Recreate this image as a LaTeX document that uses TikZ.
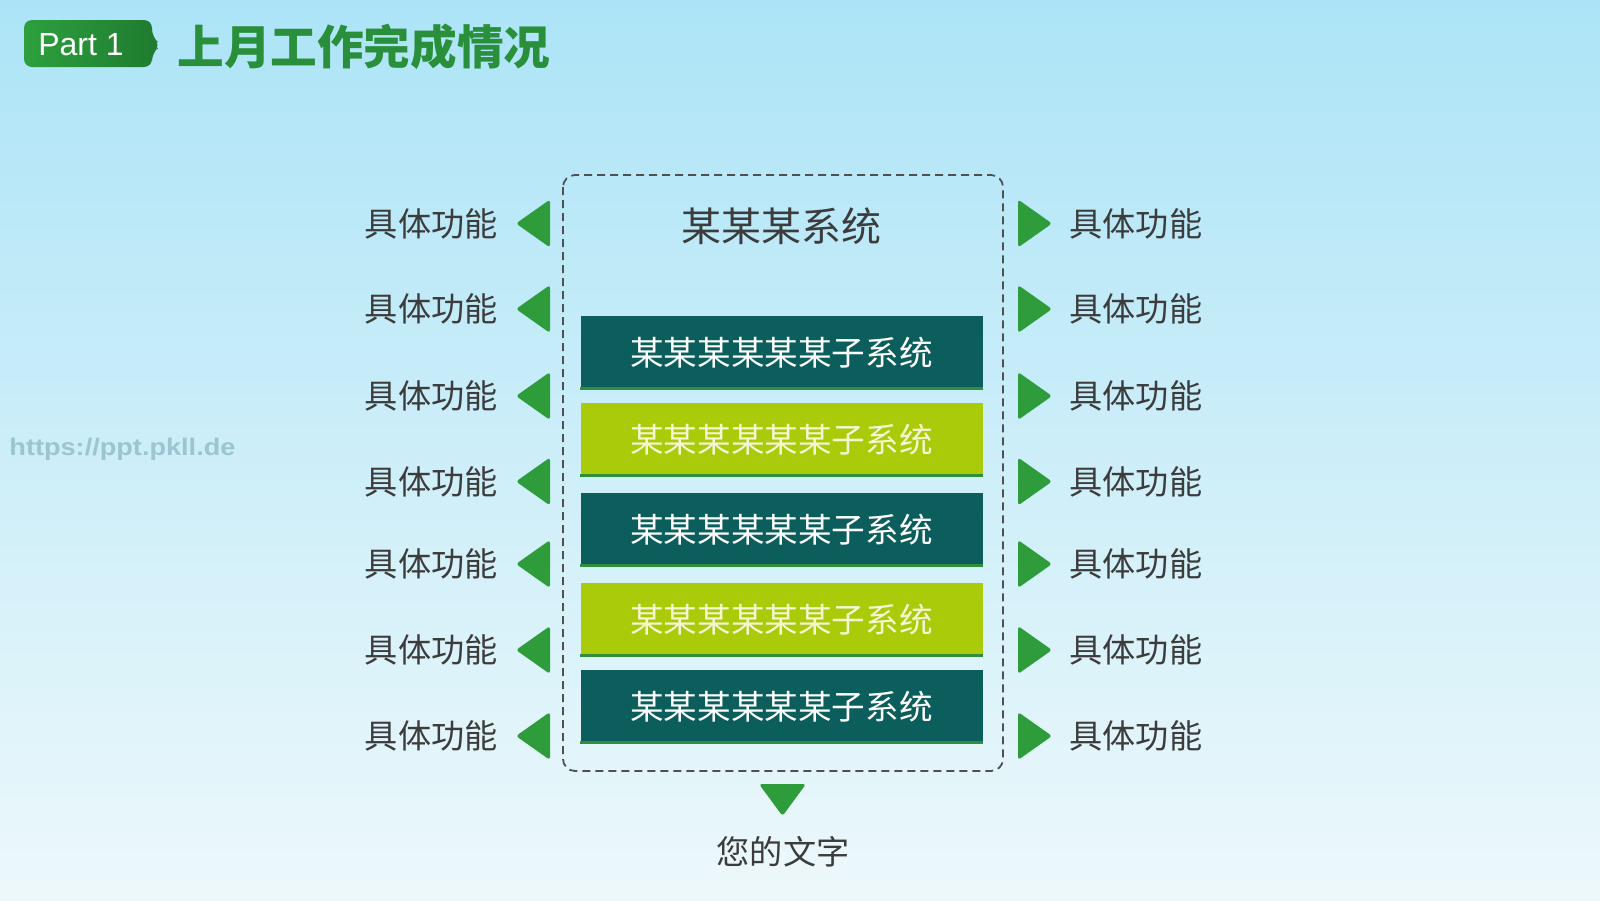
\documentclass[tikz,border=0pt]{standalone}
\usepackage{fontspec}
\setmainfont{Liberation Sans}
\newfontfamily\cjk{Noto Sans CJK SC}
\usetikzlibrary{positioning}
\definecolor{bgtop}{HTML}{ACE4F7}
\definecolor{bgmid}{HTML}{C4ECF9}
\definecolor{bgbot}{HTML}{EDF8FB}
\definecolor{teal}{HTML}{0C5E5D}
\definecolor{lime}{HTML}{AACB0A}
\definecolor{arrgreen}{HTML}{2E9C3B}
\definecolor{titlegreen}{HTML}{2A8F3A}
\definecolor{badgeA}{HTML}{2DA03E}
\definecolor{badgeB}{HTML}{1E7A2F}
\definecolor{labelgray}{HTML}{3C3C3C}
\definecolor{creamtext}{HTML}{F4F7D2}
\definecolor{barline}{HTML}{2F8F3A}
\definecolor{wm}{HTML}{9CC5D2}
\tikzset{
  label/.style={font=\cjk\fontsize{16.6pt}{18pt}\selectfont, text=labelgray, inner sep=0pt},
  subbar/.style={minimum width=201pt, minimum height=37pt, inner sep=0pt,
    font=\cjk\fontsize{16.8pt}{18pt}\selectfont},
  tealbar/.style={subbar, fill=teal, text=white},
  limebar/.style={subbar, fill=lime, text=creamtext},
  bottomline/.style={draw=barline, line width=1.5pt},
  tri/.style={fill=arrgreen, rounded corners=1.5pt}
}
\begin{document}
\begin{tikzpicture}[x=0.5pt,y=-0.5pt]
\useasboundingbox (0,0) rectangle (1600,900);
\shade[top color=bgtop, middle color=bgmid, bottom color=bgbot] (0,0) rectangle (1600,900);

% badge
\shade[left color=badgeA, right color=badgeB, rounded corners=4pt]
  (24,20) -- (152,20) -- (152,37) -- (161,45) -- (152,53) -- (152,67) -- (24,67) -- cycle;
\node[font=\fontsize{16pt}{18pt}\selectfont, text=white, inner sep=0pt] (part) at (81,45) {Part 1};
\node[font=\cjk\fontsize{23.3pt}{25pt}\selectfont\bfseries, text=titlegreen, anchor=west, inner sep=0pt] (title) at (177,47) {上月工作完成情况};

% watermark
\node[font=\bfseries\fontsize{12pt}{13pt}\selectfont, text=wm, anchor=west, inner sep=0pt, xscale=1.13, transform shape] (wmk) at (9,449) {https://ppt.pkll.de};

% dashed frame
\draw[dashed, dash pattern=on 4pt off 2.5pt, line width=0.9pt, draw=labelgray!90, rounded corners=6pt] (563,175) rectangle (1003,771);
\node[font=\cjk\fontsize{20pt}{22pt}\selectfont, text=labelgray, inner sep=0pt] (sys) at (781,226) {某某某系统};

% sub bars
\node[tealbar] (b1) at (781.5,353) {某某某某某某子系统};
\node[limebar] (b2) at (781.5,440) {某某某某某某子系统};
\node[tealbar] (b3) at (781.5,530) {某某某某某某子系统};
\node[limebar] (b4) at (781.5,619.5) {某某某某某某子系统};
\node[tealbar] (b5) at (781.5,706.5) {某某某某某某子系统};
\foreach \b in {b1,b2,b3,b4,b5}{
  \draw[bottomline] ([yshift=0.75pt]\b.south west) -- ([yshift=0.75pt]\b.south east);
}

% side arrows and labels
\foreach \y [count=\i] in {223.5,309,396,481.5,564,650,736}{
  \fill[tri] (516,\y) -- (550,\y-24) -- (550,\y+24) -- cycle;
  \fill[tri] (1052,\y) -- (1018,\y-24) -- (1018,\y+24) -- cycle;
  \node[label, anchor=east] (L\i) at (498,\y) {具体功能};
  \node[label, anchor=west] (R\i) at (1069,\y) {具体功能};
}

% bottom arrow and text
\fill[tri] (759,784) -- (806,784) -- (782.5,816) -- cycle;
\node[label] (txt) at (783,852) {您的文字};
\end{tikzpicture}
\end{document}
